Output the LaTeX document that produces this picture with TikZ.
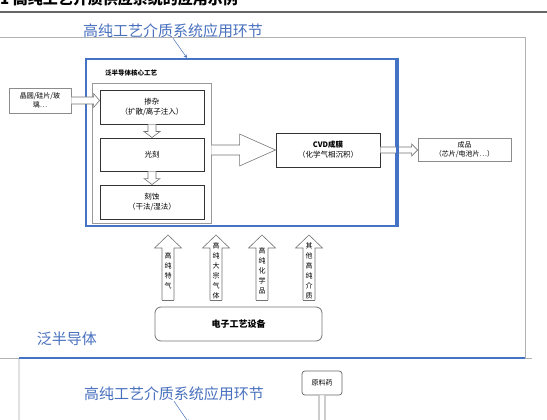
\documentclass[tikz,border=0pt]{standalone}
\usepackage{fontspec}
\setmainfont{Noto Sans CJK SC}
\usetikzlibrary{calc}
\usetikzlibrary{positioning}

\definecolor{frameblue}{RGB}{68,114,196}
\definecolor{labelblue}{RGB}{72,112,190}

% hollow arrow, horizontal: tail, tip, shaft half width, head half width, head length
\newcommand{\harrow}[5]{%
  \draw[hollow] ($(#1)+(0,#3)$) -- ($(#2)+(-#5,#3)$) -- ($(#2)+(-#5,#4)$) -- (#2)
    -- ($(#2)+(-#5,-#4)$) -- ($(#2)+(-#5,-#3)$) -- ($(#1)+(0,-#3)$);}
% hollow arrow, vertical: tail, tip, shaft half width, head half width, head length (signed)
\newcommand{\varrow}[5]{%
  \draw[hollow] ($(#1)+(#3,0)$) -- ($(#2)+(#3,0)-(0,#5)$) -- ($(#2)+(#4,0)-(0,#5)$) -- (#2)
    -- ($(#2)+(-#4,0)-(0,#5)$) -- ($(#2)+(-#3,0)-(0,#5)$) -- ($(#1)+(-#3,0)$);}

\begin{document}
\begin{tikzpicture}[x=1pt, y=-1pt,
    box/.style={draw=black!80, line width=0.9pt, fill=white, minimum width=104pt, minimum height=34pt,
      align=center, inner sep=1pt, font=\fontsize{7.5}{10}\selectfont},
    greybox/.style={draw=black!45, line width=0.7pt, fill=white, align=center, inner sep=1pt,
      font=\fontsize{7}{9}\selectfont},
    hollow/.style={draw=black!55, line width=0.6pt, fill=white},
    bluelabel/.style={text=labelblue, font=\fontsize{15}{15}\selectfont, inner sep=0pt},
    pointer/.style={draw=labelblue, line width=0.5pt, -stealth}]

  \useasboundingbox (0,0) rectangle (547,420);
  \clip (0,0) rectangle (547,420);

  % caption cut off at the top
  \node[anchor=south west, inner sep=0pt, font=\fontsize{15}{15}\selectfont\bfseries] (caption) at (0,6)
    {1 高纯工艺介质供应系统的应用示例};
  \draw[black!60, line width=1.5pt] (0,12) -- (547,12);

  % outer frame
  \draw[black!30, line width=0.8pt] (0,37) -- (525,37) -- (525,358) -- (532,358);
  \draw[black!30, line width=0.8pt] (0,358) -- (19,358);
  \draw[frameblue, line width=1.2pt] (19,358) -- (525,358);
  \draw[black!12, line width=1.5pt] (19,359) -- (19,420);

  % blue block
  \node[draw=frameblue, line width=2.6pt, minimum width=310pt, minimum height=167pt, inner sep=0pt]
    (semi) at (241,142.5) {};
  \node[anchor=west, inner sep=0pt, font=\fontsize{6.5}{8}\selectfont\bfseries] (coretitle) at (105,73)
    {泛半导体核心工艺};
  \node[draw=black!40, line width=0.8pt, minimum width=119pt, minimum height=140pt, inner sep=0pt]
    (core) at (151.5,153) {};

  \node[box] (dope) at (152,107) {掺杂\\（扩散/离子注入）};
  \node[box, minimum height=33pt] (litho) at (152,154.5) {光刻};
  \node[box] (etch) at (152,202) {刻蚀\\（干法/湿法）};

  \varrow{dope.south}{litho.north}{4}{8}{6}
  \varrow{litho.south}{etch.north}{4}{8}{6}

  % input and output
  \node[greybox, minimum width=62pt, minimum height=25pt] (wafer) at (40,100.5) {晶圆/硅片/玻\\璃…};
  \harrow{wafer.east}{wafer.east -| dope.west}{3.5}{7}{6}

  \node[box, minimum height=34pt] (cvd) at (328,150) {\bfseries CVD成膜\\（化学气相沉积）};
  \harrow{core.east |- cvd.west}{cvd.west}{5}{16}{36}

  \node[greybox, minimum width=93pt, minimum height=23pt] (product) at (464.5,149.5) {成品\\（芯片/电池片…）};
  \harrow{cvd.east}{product.west |- cvd.east}{3}{6}{6}
  \draw[frameblue, line width=2.6pt] (semi.north east) -- (semi.south east);

  % media supply
  \node[draw=black!55, line width=0.8pt, rounded corners=6pt, minimum width=167pt, minimum height=34pt,
    font=\fontsize{9}{10}\selectfont\bfseries] (equip) at (238.5,324) {电子工艺设备};

  \foreach \x/\txt/\n in {168/{高\\纯\\特\\气}/1, 216/{高\\纯\\大\\宗\\气\\体}/2,
                          262/{高\\纯\\化\\学\\品}/3, 309/{其\\他\\高\\纯\\介\\质}/4} {
    \coordinate (tail\n) at (\x,300);
    \coordinate (tip\n) at (\x,235);
    \varrow{tail\n}{tip\n}{6}{13.5}{-13}
    \draw[hollow, fill=none] ($(tail\n)+(-6,0)$) -- ($(tail\n)+(6,0)$);
    \node[align=center, inner sep=0pt, font=\fontsize{7}{10}\selectfont] (medium\n) at (\x,271) {\txt};
  }

  \node[bluelabel] (panel) at (67,339) {泛半导体};

  % labels pointing into the blocks
  \node[bluelabel] (stage) at (173,31) {高纯工艺介质系统应用环节};
  \draw[pointer] (stage.south) -- (187,58);

  % next panel, cut off
  \node[bluelabel] (stage2) at (174,394) {高纯工艺介质系统应用环节};
  \coordinate (stage2end) at (189,423);
  \draw[pointer] (stage2.south) -- (stage2end);
  \node[greybox, draw=black!60, rounded corners=3pt, minimum width=40pt, minimum height=24pt] (api) at (322,383) {原料药};
  \coordinate (apiend) at (322,430);
  \varrow{api.south}{apiend}{3}{7}{7}
\end{tikzpicture}
\end{document}
